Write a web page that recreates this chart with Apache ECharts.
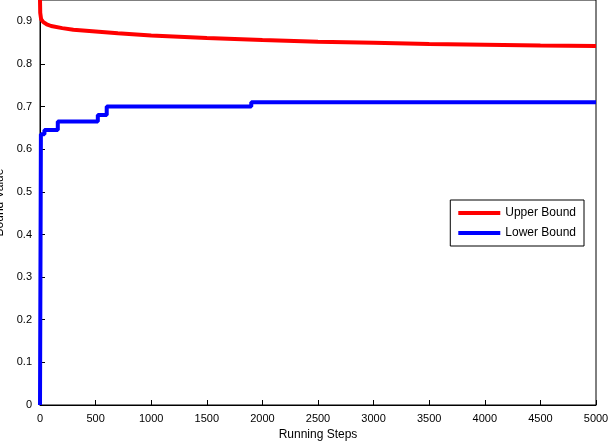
<!DOCTYPE html>
<html><head><meta charset="utf-8">
<script src="https://cdn.jsdelivr.net/npm/echarts@6/dist/echarts.min.js"></script>
<style>html,body{margin:0;padding:0;background:#fff}#c{width:612px;height:442px}</style>
</head><body><div id="c"></div>
<script>
const upperSteps=[0,2,10,30,60,100,200,300,500,700,1000,1500,2000,2500,3000,3500,4000,4500,5000];
const upperVals=[0.95,0.92,0.905,0.898,0.893,0.889,0.884,0.880,0.876,0.872,0.867,0.861,0.856,0.852,0.850,0.847,0.845,0.843,0.842];
const lowerSteps=[0,8,8,40,40,160,160,520,520,600,600,1900,1900,5000];
const lowerVals=[0,0.63,0.635,0.635,0.645,0.645,0.665,0.665,0.68,0.68,0.70,0.70,0.71,0.71];
const xTicks=[0,500,1000,1500,2000,2500,3000,3500,4000,4500,5000];
const yTicks=[0,0.1,0.2,0.3,0.4,0.5,0.6,0.7,0.8,0.9];
const up=upperSteps.map((s,i)=>[s,upperVals[i]]);
const lo=lowerSteps.map((s,i)=>[s,lowerVals[i]]);
const ax={axisLine:{show:true,onZero:false,lineStyle:{color:'#000'}},axisTick:{show:true,inside:true,length:5,lineStyle:{color:'#000'}},splitLine:{show:false},axisLabel:{color:'#000',fontSize:11,fontFamily:'Liberation Sans'}};
const chart=echarts.init(document.getElementById('c'));
chart.setOption({
 animation:false,
 grid:{left:40,right:16,top:0,bottom:37,outerBoundsMode:'none',containLabel:false,show:true,borderColor:'#000',borderWidth:1},
 xAxis:Object.assign({type:'value',min:0,max:5000,interval:500,name:'Running Steps',nameLocation:'middle',nameGap:23,nameTextStyle:{fontSize:12,color:'#000'}},ax,{axisLabel:Object.assign({},ax.axisLabel,{formatter:v=>String(v)})}),
 yAxis:Object.assign({type:'value',min:0,max:0.95,interval:0.1,name:'Bound Value',nameLocation:'middle',nameGap:30,nameTextStyle:{fontSize:12,color:'#000'}},ax,{axisLabel:Object.assign({},ax.axisLabel,{showMaxLabel:false,formatter:v=>v===0?'0':String(+v.toFixed(1))})}),
 legend:{orient:'vertical',right:28,top:200,backgroundColor:'#fff',borderColor:'#000',borderWidth:1,padding:[7,8],itemGap:8,itemWidth:42,itemHeight:4,textStyle:{fontSize:12,color:'#000'},
  data:[{name:'Upper Bound',icon:'rect'},{name:'Lower Bound',icon:'rect'}]},
 series:[
  {name:'Upper Bound',type:'line',data:up,showSymbol:false,smooth:false,lineStyle:{color:'#ff0000',width:4},itemStyle:{color:'#ff0000'}},
  {name:'Lower Bound',type:'line',data:lo,showSymbol:false,lineStyle:{color:'#0000ff',width:4},itemStyle:{color:'#0000ff'}}
 ]
});
</script></body></html>
